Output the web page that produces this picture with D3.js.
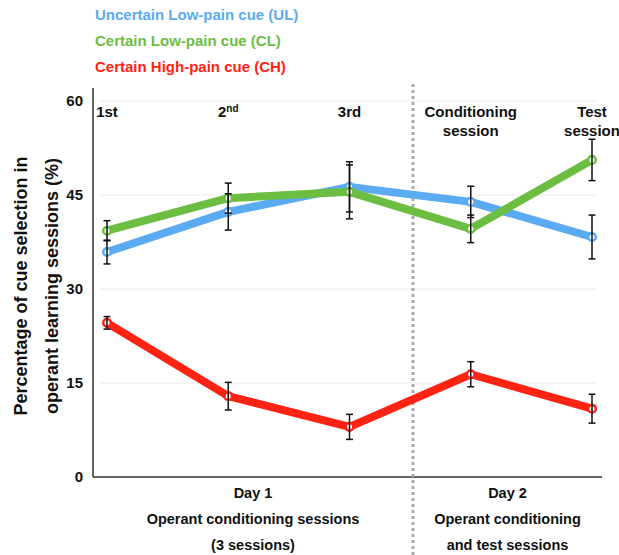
<!DOCTYPE html>
<html>
<head>
<meta charset="utf-8">
<script src="https://cdn.jsdelivr.net/npm/d3@7"></script>
<style>
  body { margin: 0; background: #fff; }
  svg text { font-family: "Liberation Sans", Arial, sans-serif; font-weight: bold; }
</style>
</head>
<body>
<div id="chart"></div>
<script>
// data
const sessions = ["s1", "s2", "s3", "cond", "test"];
const sessionLabels = [["1st"], ["2^nd"], ["3rd"], ["Conditioning", "session"], ["Test", "session"]];
const yTicks = [0, 15, 30, 45, 60];

const seriesNames = ["Uncertain Low-pain cue (UL)", "Certain Low-pain cue (CL)", "Certain High-pain cue (CH)"];
const seriesColors = ["#5aabf2", "#6cbe42", "#ff2313"];
const ulValues = [35.9, 42.3, 46.3, 43.9, 38.3];
const ulErrors = [1.9, 2.9, 4.0, 2.5, 3.5];
const clValues = [39.3, 44.5, 45.5, 39.6, 50.6];
const clErrors = [1.6, 2.4, 4.3, 2.2, 3.3];
const chValues = [24.6, 12.9, 8.0, 16.4, 10.9];
const chErrors = [1.0, 2.2, 2.0, 2.0, 2.3];

const dayLabels = [["Day 1", "Operant conditioning sessions", "(3 sessions)"],
                   ["Day 2", "Operant conditioning", "and test sessions"]];

// layout
const width = 619, height = 555;
const axisX = 93, axisBottom = 477, axisRight = 602, dividerX = 413;

const svg = d3.select("#chart").append("svg")
    .attr("width", width)
    .attr("height", height);

const x = d3.scalePoint()
    .domain(sessions)
    .range([107, 592]);

const y = d3.scaleLinear()
    .domain([0, 60])
    .range([axisBottom, 101]);

// gridlines
svg.append("g")
    .selectAll("line")
    .data(yTicks.filter(d => d > 0))
    .enter()
    .append("line")
    .attr("x1", 100)
    .attr("x2", 596)
    .attr("y1", d => y(d))
    .attr("y2", d => y(d))
    .attr("stroke", "#ececec")
    .attr("stroke-width", 1);

// y axis
svg.append("g")
    .attr("transform", `translate(${axisX},0)`)
    .call(d3.axisLeft(y).tickValues(yTicks).tickSize(0).tickPadding(10))
    .call(g => g.select(".domain").remove())
    .selectAll("text")
    .attr("font-family", null)
    .style("font-size", "15px")
    .attr("fill", "#111");

svg.append("line")
    .attr("x1", axisX).attr("x2", axisX)
    .attr("y1", 88).attr("y2", axisBottom)
    .attr("stroke", "#333").attr("stroke-width", 1.5);

svg.append("line")
    .attr("x1", axisX).attr("x2", axisRight)
    .attr("y1", axisBottom).attr("y2", axisBottom)
    .attr("stroke", "#333").attr("stroke-width", 1.5);

// dotted divider between days
svg.append("line")
    .attr("x1", dividerX).attr("x2", dividerX)
    .attr("y1", 84).attr("y2", height)
    .attr("stroke", "#aaa")
    .attr("stroke-width", 3)
    .attr("stroke-dasharray", "3,3");

// y title
const yTitle = svg.append("text")
    .attr("transform", "translate(0,286) rotate(-90)")
    .attr("text-anchor", "middle")
    .style("font-size", "18px")
    .attr("fill", "#111");
yTitle.append("tspan").attr("x", 0).attr("y", 27).text("Percentage of cue selection in");
yTitle.append("tspan").attr("x", 0).attr("y", 58).text("operant learning sessions (%)");

// session labels on top
sessionLabels.forEach((lines, i) => {
    const t = svg.append("text")
        .attr("text-anchor", "middle")
        .style("font-size", "15px")
        .attr("fill", "#111");
    lines.forEach((line, j) => {
        const parts = line.split("^");
        t.append("tspan")
            .attr("x", x(sessions[i]))
            .attr("y", 117 + j * 19)
            .text(parts[0]);
        if (parts[1]) {
            t.append("tspan")
                .attr("dy", -5)
                .style("font-size", "10px")
                .text(parts[1]);
        }
    });
});

// lines, error bars, markers
const series = [
    { name: seriesNames[0], color: seriesColors[0], values: ulValues, errors: ulErrors },
    { name: seriesNames[1], color: seriesColors[1], values: clValues, errors: clErrors },
    { name: seriesNames[2], color: seriesColors[2], values: chValues, errors: chErrors }
];

const line = d3.line()
    .x((d, i) => x(sessions[i]))
    .y(d => y(d));

// draw order: red, blue, green on top at the crossings
const drawOrder = [2, 0, 1];

drawOrder.forEach(k => {
    const s = series[k];
    svg.append("path")
        .datum(s.values)
        .attr("d", line)
        .attr("fill", "none")
        .attr("stroke", s.color)
        .attr("stroke-width", 8)
        .attr("stroke-linejoin", "round");
});

drawOrder.forEach(k => {
    const s = series[k];
    svg.append("g")
        .selectAll("circle")
        .data(s.values)
        .enter()
        .append("circle")
        .attr("cx", (d, i) => x(sessions[i]))
        .attr("cy", d => y(d))
        .attr("r", 3.8)
        .attr("fill", "#fff")
        .attr("stroke", s.color)
        .attr("stroke-width", 2.5);
});

series.forEach(s => {
    const eb = svg.append("g")
        .attr("stroke", "#111")
        .attr("stroke-width", 1.5);
    s.values.forEach((v, i) => {
        const cx = x(sessions[i]);
        const top = y(v + s.errors[i]), bot = y(v - s.errors[i]);
        eb.append("line").attr("x1", cx).attr("x2", cx).attr("y1", top).attr("y2", bot);
        eb.append("line").attr("x1", cx - 3.5).attr("x2", cx + 3.5).attr("y1", top).attr("y2", top);
        eb.append("line").attr("x1", cx - 3.5).attr("x2", cx + 3.5).attr("y1", bot).attr("y2", bot);
    });
});

// legend
svg.append("g")
    .selectAll("text")
    .data(series)
    .enter()
    .append("text")
    .attr("x", 95)
    .attr("y", (d, i) => 20 + i * 26)
    .style("font-size", "15px")
    .attr("fill", d => d.color)
    .text(d => d.name);

// day labels under the axis
const dayCenters = [(axisX + dividerX) / 2, (dividerX + axisRight) / 2];
dayLabels.forEach((lines, i) => {
    svg.append("g")
        .selectAll("text")
        .data(lines)
        .enter()
        .append("text")
        .attr("x", dayCenters[i])
        .attr("y", (d, j) => 498 + j * 26)
        .attr("text-anchor", "middle")
        .style("font-size", "14.5px")
        .attr("fill", "#111")
        .text(d => d);
});
</script>
</body>
</html>
